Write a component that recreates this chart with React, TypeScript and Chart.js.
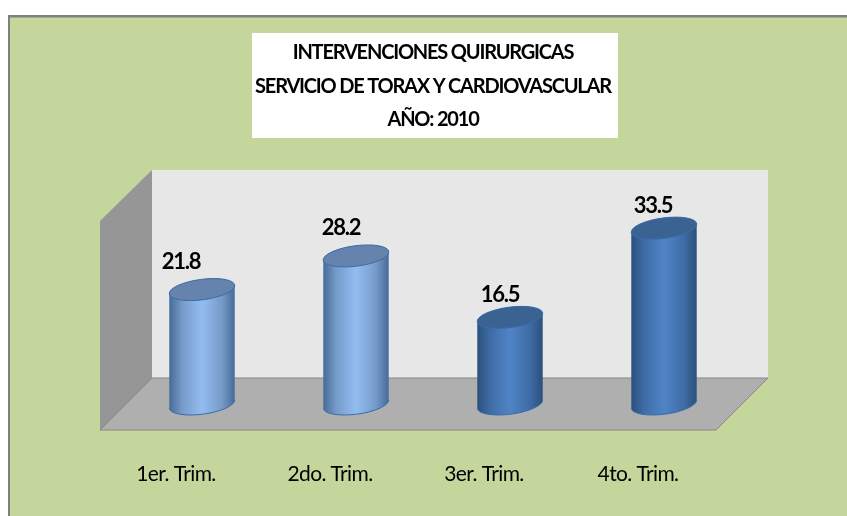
import React, { useEffect, useRef } from "react";
import { Chart, BarElement, registerables } from "chart.js";

const categories = ["1er. Trim.", "2do. Trim.", "3er. Trim.", "4to. Trim."];
const values = [21.8, 28.2, 16.5, 33.5];
const titleLines = ["INTERVENCIONES QUIRURGICAS", "SERVICIO DE TORAX Y CARDIOVASCULAR", "AÑO: 2010"];
const bodyColors = ["#93BDF1", "#93BDF1", "#5084C7", "#5084C7"];
const edgeColors = ["#466A96", "#466A96", "#2A4F7C", "#2A4F7C"];
const sideColors = ["#769BC9", "#769BC9", "#3F6CA6", "#3F6CA6"];
const capColors = ["#6583AC", "#6583AC", "#3A6391", "#3A6391"];
const valueLabelShift = [[-21, -28], [-15, -28], [-10, -22.5], [-11, -22.5]];

const FONT = "Lato, 'Noto Sans', sans-serif";
const TILT = (-7.6 * Math.PI) / 180;
const RY = 10.2;

class CylinderBar extends BarElement {
  static id = "cylinderBar";
  draw(ctx: CanvasRenderingContext2D) {
    const { x, y, base, width } = (this as any).getProps(["x", "y", "base", "width"]);
    const i = (this as any).$context?.dataIndex ?? 0;
    const rx = width / 2;
    ctx.save();
    const g = ctx.createLinearGradient(x - rx, 0, x + rx, 0);
    g.addColorStop(0, edgeColors[i]);
    g.addColorStop(0.2, sideColors[i]);
    g.addColorStop(0.5, bodyColors[i]);
    g.addColorStop(0.8, sideColors[i]);
    g.addColorStop(1, edgeColors[i]);
    ctx.beginPath();
    ctx.ellipse(x, base, rx, RY, TILT, 0, Math.PI, false);
    ctx.ellipse(x, y, rx, RY, TILT, Math.PI, 2 * Math.PI, false);
    ctx.closePath();
    ctx.fillStyle = g;
    ctx.fill();
    ctx.beginPath();
    ctx.ellipse(x, base, rx, RY, TILT, 0, Math.PI, false);
    ctx.strokeStyle = "#3A6CA8";
    ctx.lineWidth = 1;
    ctx.stroke();
    ctx.beginPath();
    ctx.ellipse(x, y, rx, RY, TILT, 0, 2 * Math.PI);
    ctx.fillStyle = capColors[i];
    ctx.fill();
    ctx.stroke();
    ctx.restore();
  }
}
Chart.register(...registerables, CylinderBar);
(Chart.defaults as any).datasets.bar.dataElementType = "cylinderBar";

const scenePlugin = {
  id: "scene",
  beforeDraw(chart: any) {
    const { ctx, width, height, chartArea: a } = chart;
    ctx.save();
    ctx.fillStyle = "#FFFFFF";
    ctx.fillRect(0, 0, width, height);
    ctx.fillStyle = "#C4D69B";
    ctx.fillRect(8, 15, width - 8, height - 15);
    ctx.fillStyle = "#808080";
    ctx.fillRect(8, 15, width - 8, 2.5);
    ctx.fillRect(8, 15, 2, height - 15);
    ctx.fillStyle = "#FFFFFF";
    ctx.fillRect(252, 33, 366, 105);

    const bx0 = a.left + 27, bx1 = a.right + 27, by0 = a.top - 24, by1 = a.bottom - 26;
    const fx0 = a.left - 25, fx1 = a.right - 25, fy1 = a.bottom + 26, fy0 = by0 + 51;
    const poly = (pts: number[][], fill: string) => {
      ctx.beginPath();
      pts.forEach((p, k) => (k ? ctx.lineTo(p[0], p[1]) : ctx.moveTo(p[0], p[1])));
      ctx.closePath();
      ctx.fillStyle = fill;
      ctx.fill();
    };
    poly([[bx0, by0], [bx1, by0], [bx1, by1], [bx0, by1]], "#E7E7E7");
    poly([[fx0, fy0], [bx0, by0], [bx0, by1], [fx0, fy1]], "#969696");
    poly([[bx0, by1], [bx1, by1], [fx1, fy1], [fx0, fy1]], "#AFAFAF");
    ctx.strokeStyle = "#868686";
    ctx.lineWidth = 1;
    ctx.beginPath();
    ctx.moveTo(fx0, fy1); ctx.lineTo(fx1, fy1); ctx.lineTo(bx1, by1); ctx.lineTo(bx0, by1); ctx.lineTo(fx0, fy1);
    ctx.stroke();
    ctx.restore();
    ctx.letterSpacing = "-1.2px";
  },
  afterDatasetsDraw(chart: any) {
    const { ctx } = chart;
    const meta = chart.getDatasetMeta(0);
    ctx.save();
    ctx.fillStyle = "#000000";
    ctx.font = `bold 22px ${FONT}`;
    ctx.textAlign = "center";
    ctx.textBaseline = "middle";
    meta.data.forEach((el: any, i: number) => {
      ctx.fillText(values[i].toFixed(1), el.x + valueLabelShift[i][0], el.y + valueLabelShift[i][1]);
    });
    ctx.restore();
    ctx.letterSpacing = "-0.6px";
  },
};

export default function App() {
  const ref = useRef<HTMLCanvasElement>(null);
  useEffect(() => {
    const chart = new Chart(ref.current as HTMLCanvasElement, {
      type: "bar",
      data: {
        labels: categories,
        datasets: [{ data: values, backgroundColor: bodyColors, barThickness: 66, borderWidth: 0, clip: false }],
      },
      options: {
        animation: false,
        responsive: false,
        layout: { padding: { left: 125, right: 106, top: 0, bottom: 0 } },
        plugins: {
          legend: { display: false },
          tooltip: { enabled: false },
          title: {
            display: true,
            text: titleLines,
            fullSize: false,
            color: "#000000",
            font: { family: FONT, size: 20, weight: "bold", lineHeight: 1.675 },
            padding: { top: 36, bottom: 57.5 },
          },
        },
        scales: {
          x: {
            afterFit: (s: any) => { s.height = 112; },
            grid: { display: false, drawTicks: false },
            border: { display: false },
            ticks: {
              z: 1,
              labelOffset: -26,
              padding: 58,
              color: "#000000",
              font: { family: FONT, size: 21 },
              maxRotation: 0,
            },
          },
          y: { display: false, min: 0, max: 40 },
        },
      } as any,
      plugins: [scenePlugin],
    });
    return () => chart.destroy();
  }, []);
  return (
    <div style={{ position: "fixed", left: 0, top: 0 }}>
      <canvas ref={ref} width={847} height={516} style={{ display: "block" }} />
    </div>
  );
}
